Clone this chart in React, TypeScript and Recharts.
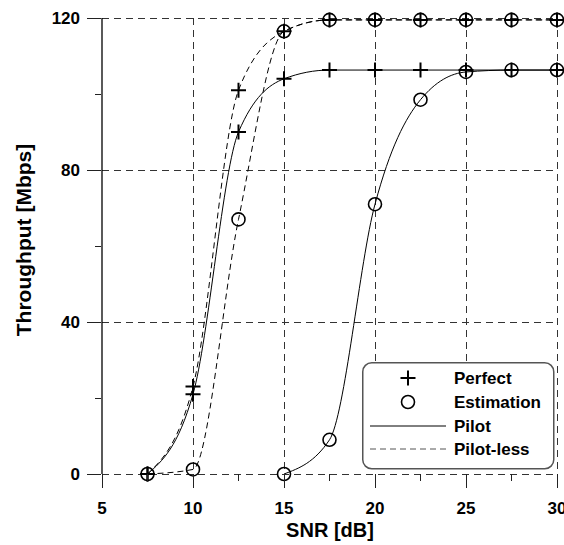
import { CartesianGrid, Label, Legend, Line, LineChart, XAxis, YAxis } from "recharts";

const snr = [7.5, 10, 12.5, 15, 17.5, 20, 22.5, 25, 27.5, 30];
const perfectPilot = [0, 21, 90, 104, 106.3, 106.3, 106.3, 106.3, 106.3, 106.3];
const perfectPilotLess = [0, 23, 101, 116.5, 119.5, 119.5, 119.5, 119.5, 119.5, 119.5];
const estimationPilot = [null, null, null, 0, 9, 71, 98.5, 105.8, 106.3, 106.3];
const estimationPilotLess = [0, 1.2, 67, 116.5, 119.5, 119.5, 119.5, 119.5, 119.5, 119.5];

const xTicks = [5, 7.5, 10, 12.5, 15, 17.5, 20, 22.5, 25, 27.5, 30];
const yTicks = [0, 20, 40, 60, 80, 100, 120];
const xGrid = [10, 15, 20, 25, 30];
const yGrid = [0, 40, 80, 120];

const data = snr.map((s, i) => ({
  snr: s,
  perfectPilot: perfectPilot[i],
  perfectPilotLess: perfectPilotLess[i],
  estimationPilot: estimationPilot[i],
  estimationPilotLess: estimationPilotLess[i],
}));

const FONT = '"Liberation Sans", Arial, Helvetica, sans-serif';

const PlusDot = (props: any) => {
  const { cx, cy, index } = props;
  if (cx == null || cy == null) return <g key={index} />;
  return (
    <path
      key={index}
      d={`M${cx - 7.5},${cy}H${cx + 7.5}M${cx},${cy - 7.5}V${cy + 7.5}`}
      stroke="#000"
      strokeWidth={2}
      fill="none"
    />
  );
};

const CircleDot = (props: any) => {
  const { cx, cy, index } = props;
  if (cx == null || cy == null) return <g key={index} />;
  return <circle key={index} cx={cx} cy={cy} r={6.5} stroke="#000" strokeWidth={1.6} fill="none" />;
};

const XTick = (props: any) => {
  const { x, y, payload } = props;
  const major = payload.value % 5 === 0;
  return (
    <g>
      <line x1={x} x2={x} y1={y} y2={y + (major ? 14 : 7)} stroke="#222" strokeWidth={1} shapeRendering="crispEdges" />
      {major && (
        <text x={x} y={y + 40} textAnchor="middle" fontFamily={FONT} fontWeight="bold" fontSize={17} fill="#000">
          {payload.value}
        </text>
      )}
    </g>
  );
};

const YTick = (props: any) => {
  const { x, y, payload } = props;
  const major = payload.value % 40 === 0;
  return (
    <g>
      <line x1={x - (major ? 15 : 7)} x2={x - 1} y1={y} y2={y} stroke="#222" strokeWidth={1} shapeRendering="crispEdges" />
      {major && (
        <text x={x - 22} y={y + 6} textAnchor="end" fontFamily={FONT} fontWeight="bold" fontSize={17} fill="#000">
          {payload.value}
        </text>
      )}
    </g>
  );
};

const renderLegend = () => (
  <svg width={193} height={108} style={{ display: "block" }}>
    <rect x={0.75} y={0.75} width={191} height={106} rx={9} fill="#fff" stroke="#555" strokeWidth={1.5} />
    <path d="M38.5,16H53.5M46,8.5V23.5" stroke="#000" strokeWidth={2} />
    <circle cx={46} cy={40} r={6.5} stroke="#000" strokeWidth={1.6} fill="none" />
    <line x1={8} x2={84} y1={64} y2={64} stroke="#000" strokeWidth={1} />
    <line x1={8} x2={84} y1={87} y2={87} stroke="#555" strokeWidth={1} strokeDasharray="6 4" />
    {["Perfect", "Estimation", "Pilot", "Pilot-less"].map((t, i) => (
      <text key={t} x={92} y={[16, 40, 64, 87][i] + 6} fontFamily={FONT} fontWeight="bold" fontSize={17} fill="#000">
        {t}
      </text>
    ))}
  </svg>
);

export default function App() {
  return (
    <div style={{ position: "absolute", left: 0, top: 0, background: "#fff" }}>
      <LineChart width={564} height={545} data={data} margin={{ top: 18, right: 7, left: 0, bottom: 0 }}>
        <CartesianGrid
          stroke="#333"
          strokeDasharray="7 5"
          shapeRendering="crispEdges"
          horizontalValues={yGrid}
          verticalValues={xGrid}
        />
        <XAxis
          dataKey="snr"
          type="number"
          domain={[5, 30]}
          ticks={xTicks}
          height={71}
          axisLine={false}
          tickLine={false}
          tickSize={0}
          tickMargin={0}
          tick={<XTick />}
          interval={0}
        >
          <Label
            content={() => (
              <text x={330} y={537} textAnchor="middle" fontFamily={FONT} fontWeight="bold" fontSize={20} fill="#000">
                SNR [dB]
              </text>
            )}
          />
        </XAxis>
        <YAxis
          type="number"
          domain={[0, 120]}
          ticks={yTicks}
          width={102}
          axisLine={{ stroke: "#000", strokeWidth: 1.3 }}
          tickLine={false}
          tickSize={0}
          tickMargin={0}
          tick={<YTick />}
          interval={0}
        >
          <Label
            content={() => (
              <text
                x={23}
                y={240}
                transform="rotate(-90 23 240)"
                textAnchor="middle"
                dominantBaseline="central"
                fontFamily={FONT}
                fontWeight="bold"
                fontSize={21}
                fill="#000"
              >
                Throughput [Mbps]
              </text>
            )}
          />
        </YAxis>
        <Legend
          layout="horizontal"
          verticalAlign="middle"
          align="center"
          wrapperStyle={{ left: 362, top: 362, width: 193, height: 108 }}
          content={renderLegend}
        />
        <Line type="monotone" dataKey="perfectPilot" stroke="#000" strokeWidth={1} dot={PlusDot} isAnimationActive={false} />
        <Line type="monotone" dataKey="perfectPilotLess" stroke="#000" strokeWidth={1} strokeDasharray="6 4" dot={PlusDot} isAnimationActive={false} />
        <Line type="monotone" dataKey="estimationPilot" stroke="#000" strokeWidth={1} dot={CircleDot} isAnimationActive={false} />
        <Line type="monotone" dataKey="estimationPilotLess" stroke="#000" strokeWidth={1} strokeDasharray="6 4" dot={CircleDot} isAnimationActive={false} />
      </LineChart>
    </div>
  );
}
